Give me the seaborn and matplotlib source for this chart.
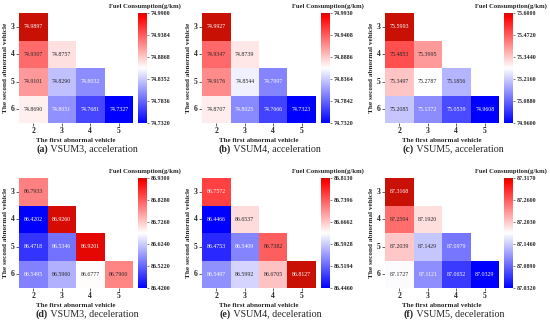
import numpy as np
import pandas as pd
import matplotlib
matplotlib.use("Agg")
import matplotlib.pyplot as plt
import seaborn as sns
from matplotlib.colors import LinearSegmentedColormap

sns.set_theme(style="white")
plt.rcParams['font.family'] = ['Liberation Serif', 'DejaVu Serif']

first_vehicle = [2, 3, 4, 5]
second_vehicle = [3, 4, 5, 6]

nan = np.nan
vsum3_acc = [[74.9897, nan, nan, nan],
             [74.9307, 74.8757, nan, nan],
             [74.9101, 74.8290, 74.8032, nan],
             [74.8690, 74.8051, 74.7681, 74.7327]]
vsum4_acc = [[74.9927, nan, nan, nan],
             [74.9347, 74.8739, nan, nan],
             [74.9176, 74.8544, 74.7997, nan],
             [74.8707, 74.8025, 74.7666, 74.7323]]
vsum5_acc = [[75.5993, nan, nan, nan],
             [75.4853, 75.3995, nan, nan],
             [75.3497, 75.2787, 75.1856, nan],
             [75.2085, 75.1372, 75.0539, 74.9608]]
vsum3_dec = [[86.7933, nan, nan, nan],
             [86.4202, 86.9260, nan, nan],
             [86.4718, 86.5346, 86.9201, nan],
             [86.5495, 86.5960, 86.6777, 86.7900]]
vsum4_dec = [[86.7572, nan, nan, nan],
             [86.4466, 86.6537, nan, nan],
             [86.4753, 86.5409, 86.7382, nan],
             [86.5497, 86.5992, 86.6705, 86.8127]]
vsum5_dec = [[87.3168, nan, nan, nan],
             [87.2504, 87.1920, nan, nan],
             [87.2039, 87.1429, 87.0979, nan],
             [87.1727, 87.1121, 87.0652, 87.0329]]

vmins = [74.7320, 74.7320, 74.9600, 86.4200, 86.4460, 87.0320]
vmaxs = [74.9900, 74.9930, 75.6000, 86.9300, 86.8130, 87.3170]
letters = ["a", "b", "c", "d", "e", "f"]
titles = ["VSUM3, acceleration", "VSUM4, acceleration", "VSUM5, acceleration",
          "VSUM3, deceleration", "VSUM4, deceleration", "VSUM5, deceleration"]
datasets = [vsum3_acc, vsum4_acc, vsum5_acc, vsum3_dec, vsum4_dec, vsum5_dec]

cmap = LinearSegmentedColormap.from_list(
    "bwrb", [(0.0, "#0000ff"), (0.5, "#ffffff"), (0.97, "#ff0000"), (1.0, "#c81005")])

W, H = 550, 331
fig = plt.figure(figsize=(W / 100, H / 100), dpi=100)

for i, data in enumerate(datasets):
    col = i % 3
    row = i // 3
    ox = col * 183
    oy = row * 165
    hx0, hx1 = ox + 19, ox + 133
    hy0, hy1 = oy + 13, oy + 123
    ax = fig.add_axes([hx0 / W, 1 - hy1 / H, (hx1 - hx0) / W, (hy1 - hy0) / H])
    cx0, cx1 = ox + 138, ox + 147
    cax = fig.add_axes([cx0 / W, 1 - hy1 / H, (cx1 - cx0) / W, (hy1 - hy0) / H])
    df = pd.DataFrame(data, index=second_vehicle, columns=first_vehicle)
    ticks = np.linspace(vmins[i], vmaxs[i], 6)
    sns.heatmap(df, ax=ax, cbar_ax=cax, cmap=cmap, vmin=vmins[i], vmax=vmaxs[i],
                annot=True, fmt=".4f", annot_kws={"size": 4.2},
                cbar_kws={"ticks": ticks})
    # text colour: light on strongly coloured cells, dark on pale ones
    for t in ax.texts:
        v = float(t.get_text())
        n = (v - vmins[i]) / (vmaxs[i] - vmins[i])
        t.set_color("white" if (n < 0.3 or n > 0.84) else "#262626")
    ax.set_xlabel("The first abnormal vehicle", fontsize=5, fontweight="bold", labelpad=2)
    ax.set_ylabel("The second abnormal vehicle", fontsize=5.2, fontweight="bold", labelpad=2)
    ax.tick_params(axis="both", labelsize=5.5, length=2, width=0.5, pad=1,
                   bottom=True, left=True)
    for lab in ax.get_xticklabels() + ax.get_yticklabels():
        lab.set_fontweight("bold")
    ax.set_yticklabels(ax.get_yticklabels(), rotation=0)
    cax.tick_params(labelsize=4.3, length=1.5, width=0.4, pad=1, right=True)
    cax.set_yticklabels([f"{v:.4f}" for v in ticks])
    for lab in cax.get_yticklabels():
        lab.set_fontweight("bold")
    fig.text((ox + 145) / W, 1 - (oy + 6) / H, "Fuel Consumption(g/km)",
             ha="center", va="center", fontsize=4.8, fontweight="bold")
    fig.text((ox + 48) / W, 1 - (oy + 149) / H, f"({letters[i]})",
             ha="right", va="center", fontsize=7.2, fontweight="bold")
    fig.text((ox + 48) / W, 1 - (oy + 149) / H, f" {titles[i]}",
             ha="left", va="center", fontsize=7.2)

fig.savefig("out.png", dpi=100)
